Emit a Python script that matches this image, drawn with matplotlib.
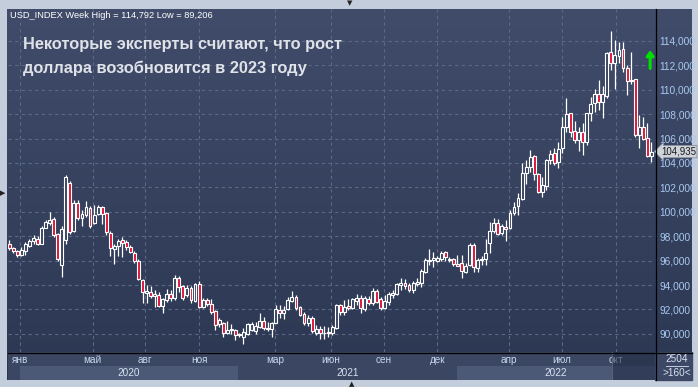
import matplotlib.pyplot as plt
import numpy as np
from matplotlib.colors import LinearSegmentedColormap
from matplotlib.lines import Line2D
from matplotlib.ticker import FuncFormatter
import matplotlib.transforms as mtransforms

# weekly USD index candles
opens = [97.4, 97.0, 96.78, 96.46, 96.8, 97.2, 97.6, 97.8, 97.4, 98.7,
         99.1, 99.45, 98.2, 95.6, 97.7, 102.35, 98.45, 100.75, 99.47, 99.74,
         100.34, 99.1, 99.8, 100.4, 99.88, 98.3, 96.93, 97.2, 97.7, 97.55,
         97.14, 96.6, 95.97, 94.4, 93.37, 93.45, 93.1, 93.18, 92.28, 92.77,
         93.24, 92.96, 94.6, 93.92, 93.18, 93.73, 92.7, 94.08, 92.22, 92.77,
         92.42, 91.87, 90.78, 90.86, 90.09, 90.3, 90.31, 89.9, 89.76, 89.96,
         90.31, 90.23, 90.58, 91.05, 90.45, 90.36, 90.9, 91.95, 91.68, 92.03,
         92.7, 93.04, 92.17, 91.62, 90.86, 91.32, 90.04, 90.36, 90.04, 90.04,
         90.09, 90.45, 92.36, 91.81, 92.28, 92.09, 92.69, 92.96, 92.0, 92.85,
         92.5, 93.53, 92.83, 92.09, 92.63, 93.18, 93.24, 94.0, 94.14, 94.0,
         93.59, 94.08, 94.2, 95.1, 96.0, 96.05, 96.0, 96.1, 96.68, 96.05,
         96.1, 95.7, 95.83, 95.1, 95.64, 97.28, 95.42, 96.05, 96.1, 97.42,
         98.45, 99.1, 98.23, 98.78, 98.65, 99.88, 100.47, 101.05, 103.2, 103.65,
         104.57, 103.07, 101.65, 102.1, 104.25, 104.8, 104.1, 105.2, 106.93, 108.07,
         106.62, 105.85, 106.57, 105.7, 108.12, 108.89, 109.65, 108.97, 109.5, 113.12,
         112.17, 112.77, 113.32, 111.76, 110.75, 110.86, 106.3, 106.98, 106.02, 104.57]
highs = [97.7, 97.1, 96.87, 97.1, 97.55, 97.8, 98.1, 98.0, 98.8, 99.3,
         99.96, 99.6, 98.3, 98.8, 103.0, 102.5, 100.97, 100.97, 100.15, 100.9,
         100.5, 100.56, 100.56, 100.5, 100.0, 98.4, 97.4, 97.8, 97.9, 97.7,
         97.3, 96.8, 96.1, 94.47, 94.0, 93.9, 93.6, 93.4, 92.9, 93.65,
         93.6, 94.82, 94.7, 94.0, 94.0, 93.9, 94.2, 94.3, 92.9, 92.9,
         92.85, 91.95, 91.27, 91.0, 91.07, 90.8, 90.36, 90.1, 90.45, 90.9,
         90.95, 91.0, 91.68, 91.4, 90.95, 91.0, 92.36, 92.36, 92.3, 93.04,
         93.5, 93.2, 92.3, 91.75, 91.54, 91.45, 90.72, 90.6, 90.6, 90.55,
         90.7, 92.44, 92.44, 92.77, 92.83, 92.9, 93.24, 93.18, 93.1, 93.1,
         93.73, 93.65, 93.0, 93.18, 93.45, 93.6, 94.15, 94.55, 94.5, 94.14,
         94.35, 94.55, 95.3, 96.2, 96.93, 96.68, 96.4, 96.75, 96.8, 96.27,
         96.25, 96.46, 96.46, 95.8, 97.42, 97.42, 96.2, 96.4, 97.75, 99.2,
         99.47, 99.4, 98.98, 99.33, 100.15, 100.83, 101.5, 103.97, 104.25, 105.07,
         104.66, 103.2, 102.88, 104.3, 105.07, 105.2, 105.75, 107.8, 109.3, 108.1,
         107.44, 106.98, 107.25, 108.12, 109.43, 110.04, 110.8, 110.3, 113.12, 114.79,
         114.08, 113.94, 113.94, 112.03, 113.12, 110.86, 107.93, 107.8, 107.25, 105.75]
lows = [96.9, 96.6, 96.3, 96.38, 96.5, 97.1, 97.4, 97.3, 97.35, 98.65,
        98.9, 97.9, 96.0, 94.63, 97.4, 98.2, 98.37, 99.3, 98.8, 99.6,
        98.7, 99.0, 99.76, 99.0, 98.1, 96.4, 95.7, 96.4, 96.3, 96.9,
        96.6, 95.8, 94.4, 92.55, 92.55, 92.9, 92.2, 92.2, 91.73, 92.63,
        92.7, 92.77, 93.4, 92.8, 93.0, 92.5, 92.6, 92.15, 92.1, 92.3,
        91.6, 90.3, 90.53, 89.7, 89.98, 89.98, 89.5, 89.7, 89.206, 89.9,
        90.2, 90.0, 90.45, 90.3, 90.2, 89.7, 90.86, 91.3, 91.25, 91.95,
        92.63, 91.95, 91.45, 90.7, 90.6, 90.1, 89.9, 89.6, 89.6, 89.78,
        89.9, 90.36, 91.54, 91.54, 91.95, 92.0, 92.36, 91.73, 91.9, 92.4,
        92.36, 92.5, 91.95, 92.0, 92.4, 92.9, 93.18, 93.6, 93.65, 93.4,
        93.35, 93.9, 93.8, 94.95, 95.64, 95.5, 95.85, 95.95, 95.95, 95.85,
        95.55, 95.55, 94.6, 94.95, 95.55, 95.1, 95.1, 95.6, 95.64, 96.6,
        98.23, 98.1, 98.1, 97.63, 98.57, 99.74, 99.74, 100.97, 102.28, 103.3,
        102.6, 101.5, 101.2, 101.8, 103.92, 103.8, 103.57, 104.8, 106.57, 106.1,
        105.6, 105.0, 104.66, 105.48, 107.47, 108.2, 108.34, 107.66, 109.3, 111.62,
        110.04, 112.17, 111.48, 109.57, 110.48, 106.16, 105.2, 105.89, 104.47, 104.1]
closes = [97.0, 96.75, 96.46, 96.87, 97.33, 97.6, 97.85, 97.4, 98.7, 99.13,
          99.3, 98.1, 96.1, 98.6, 102.88, 98.38, 100.75, 99.47, 99.82, 100.37,
          98.84, 99.74, 100.37, 99.8, 98.32, 97.0, 97.2, 97.63, 97.42, 97.14,
          96.73, 95.97, 94.47, 93.45, 93.5, 93.12, 93.24, 92.3, 92.83, 93.24,
          92.96, 94.6, 93.86, 92.96, 93.73, 92.77, 94.08, 92.22, 92.77, 92.44,
          91.81, 90.72, 91.13, 90.04, 90.3, 90.36, 89.9, 89.96, 90.17, 90.78,
          90.78, 90.64, 91.07, 90.45, 90.4, 90.86, 92.03, 91.68, 91.95, 92.77,
          93.04, 92.14, 91.54, 90.86, 91.32, 90.23, 90.36, 90.04, 90.09, 90.15,
          90.58, 92.36, 91.81, 92.22, 92.09, 92.83, 92.96, 92.09, 92.9, 92.5,
          93.53, 92.63, 92.09, 92.69, 93.24, 93.37, 94.06, 94.14, 93.92, 93.59,
          94.14, 94.27, 95.17, 96.05, 96.05, 96.19, 96.19, 96.65, 96.27, 96.1,
          95.7, 95.58, 95.17, 95.58, 97.28, 95.5, 96.05, 96.1, 96.6, 98.45,
          99.1, 98.18, 98.83, 98.57, 99.88, 100.42, 101.1, 103.16, 103.65, 104.52,
          103.1, 101.65, 102.2, 104.25, 104.74, 104.02, 105.12, 106.93, 108.02, 106.57,
          105.89, 106.57, 105.7, 108.07, 108.81, 109.65, 108.97, 109.65, 112.99, 112.17,
          112.85, 113.26, 111.76, 110.75, 110.8, 106.3, 106.98, 105.94, 104.57, 104.935]

month_pos = [2.7, 20.7, 33.6, 47.0, 65.8, 79.7, 92.8, 106.0, 123.7, 136.9, 150.2]
month_labels = ['янв', 'май', 'авг', 'ноя', 'мар', 'июн', 'сен', 'дек', 'апр', 'июл', 'окт']
year_edges = [2.65, 56.6, 110.9, 170.0]
years = ['2020', '2021', '2022']
price_ticks = [90, 92, 94, 96, 98, 100, 102, 104, 106, 108, 110, 112, 114]
last_price = 104.935

W, H = 698, 387
XMIN, XMAX = -0.32, 159.92
fig = plt.figure(figsize=(W / 100, H / 100), dpi=100, facecolor='#c3cddb')


def rect(x0, y0, x1, y1):
    return [x0 / W, 1 - y1 / H, (x1 - x0) / W, (y1 - y0) / H]


# panel background
bg = fig.add_axes(rect(7, 9, 692, 380))
cmap = LinearSegmentedColormap.from_list('panel', ['#404c6a', '#2c3752'])
bg.imshow(np.linspace(0, 1, 256).reshape(-1, 1), cmap=cmap, aspect='auto', extent=[0, 1, 0, 1])
bg.axis('off')

# candles
ax = fig.add_axes(rect(8, 9, 655, 352))
ax.patch.set_alpha(0)
x = np.arange(len(closes))
o = np.array(opens); c = np.array(closes)
up = c >= o
bottoms = np.minimum(o, c)
heights = np.maximum(np.abs(c - o), 0.06)
ax.vlines(x, lows, highs, color='white', linewidth=0.9, zorder=3)
ax.bar(x, heights, bottom=bottoms, width=0.72,
       color=np.where(up, '#36425f', '#dc1438'),
       edgecolor='white', linewidth=0.8, zorder=4)

ax.set_xlim(XMIN, XMAX)
ax.set_ylim(88.51, 116.62)
for s in ax.spines.values():
    s.set_visible(False)
ax.set_xticks(month_pos)
ax.set_yticks(price_ticks)
ax.yaxis.tick_right()
ax.tick_params(axis='x', length=0, labelbottom=False)
ax.tick_params(axis='y', length=0, pad=3, labelsize=7.3, labelcolor='#a9c9f0')
ax.yaxis.set_major_formatter(FuncFormatter(lambda v, p: f'{v:.3f}'.replace('.', ',')))
for lbl in ax.get_yticklabels():
    lbl.set_fontfamily('Liberation Sans')
ax.grid(True, color='#5b6986', linestyle=(0, (3, 3)), linewidth=0.8)
ax.set_axisbelow(True)

# last price marker
tr = mtransforms.blended_transform_factory(ax.transAxes, ax.transData)
ax.text(1.009, last_price, f'{last_price:.3f}'.replace('.', ','), transform=tr,
        fontsize=7.0, family='Liberation Sans', color='#1a1a1a', va='center', ha='left',
        bbox=dict(boxstyle='larrow,pad=0.12', fc='#cfd4da', ec='#8a909a', lw=0.6))
ax.annotate('', xy=(0.9925, 113.25), xytext=(0.9925, 111.75), xycoords=tr, textcoords=tr,
            arrowprops=dict(arrowstyle='-|>,head_width=0.22,head_length=0.3', color='#00e000', lw=2.2,
                            shrinkA=0, shrinkB=0))

# date strip
st = fig.add_axes(rect(8, 352, 655, 380))
st.set_xlim(XMIN, XMAX)
st.set_ylim(0, 1)
st.axis('off')
st.add_patch(plt.Rectangle((0, 0), 1, 1, transform=st.transAxes, color='#3a4662', zorder=0))
for k, yr in enumerate(years):
    a, b = year_edges[k], min(year_edges[k + 1], XMAX)
    if k != 1:
        st.axvspan(a, b, ymin=0, ymax=0.5, color='#4b5977', lw=0, zorder=1)
    st.text((a + b) / 2, 0.25, yr, ha='center', va='center', fontsize=7.2,
            color='#d8e2f0', family='Liberation Sans', zorder=2)
for p, m in zip(month_pos, month_labels):
    st.text(p, 0.7, m, ha='center', va='center', fontsize=7.2, color='#c8d6ec', family='Liberation Sans', zorder=2)
st.axvspan(149.3, XMAX, color='#1f2941', alpha=0.55, lw=0, zorder=3)
st.axvline(149.3, color='#56627c', lw=0.8, zorder=3)

# corner box
fig.patches.append(plt.Rectangle((655 / W, 1 - 380 / H), 37 / W, 28 / H, transform=fig.transFigure,
                                 color='#3c4865', zorder=1))
fig.text(677 / W, 1 - 359 / H, '2504', ha='center', va='center', fontsize=7.2, color='#d8e2f0', family='Liberation Sans')
fig.text(677 / W, 1 - 373 / H, '>160<', ha='center', va='center', fontsize=7.2, color='#d8e2f0', family='Liberation Sans')
fig.add_artist(Line2D([666 / W, 688 / W], [1 - 366 / H] * 2, color='#d8e2f0', lw=0.6))

# separators
fig.add_artist(Line2D([655.5 / W] * 2, [1 - 9 / H, 1 - 380 / H], color='black', lw=0.9))
fig.add_artist(Line2D([8 / W, 692 / W], [1 - 352.5 / H] * 2, color='black', lw=0.9))

# texts
fig.text(10 / W, 1 - 15 / H, 'USD_INDEX Week High = 114,792 Low = 89,206', fontsize=6.7,
         family='Liberation Sans', color='white', va='center')
fig.text(23 / W, 1 - 49.5 / H, 'Некоторые эксперты считают, что рост', fontsize=11.8,
         family='Liberation Sans', fontweight='bold', color='#dfe2e7', va='baseline')
fig.text(23 / W, 1 - 72.5 / H, 'доллара возобновится в 2023 году', fontsize=11.8,
         family='Liberation Sans', fontweight='bold', color='#dfe2e7', va='baseline')

fig.text(350 / W, 1 - 3 / H, '▼', fontsize=5, ha='center', va='center', color='#222222')
fig.text(352 / W, 1 - 384 / H, '▲', fontsize=5, ha='center', va='center', color='#222222')
fig.text(3 / W, 1 - 193 / H, '▶', fontsize=5, ha='center', va='center', color='#222222')

fig.savefig('out.png', dpi=100, facecolor=fig.get_facecolor())
